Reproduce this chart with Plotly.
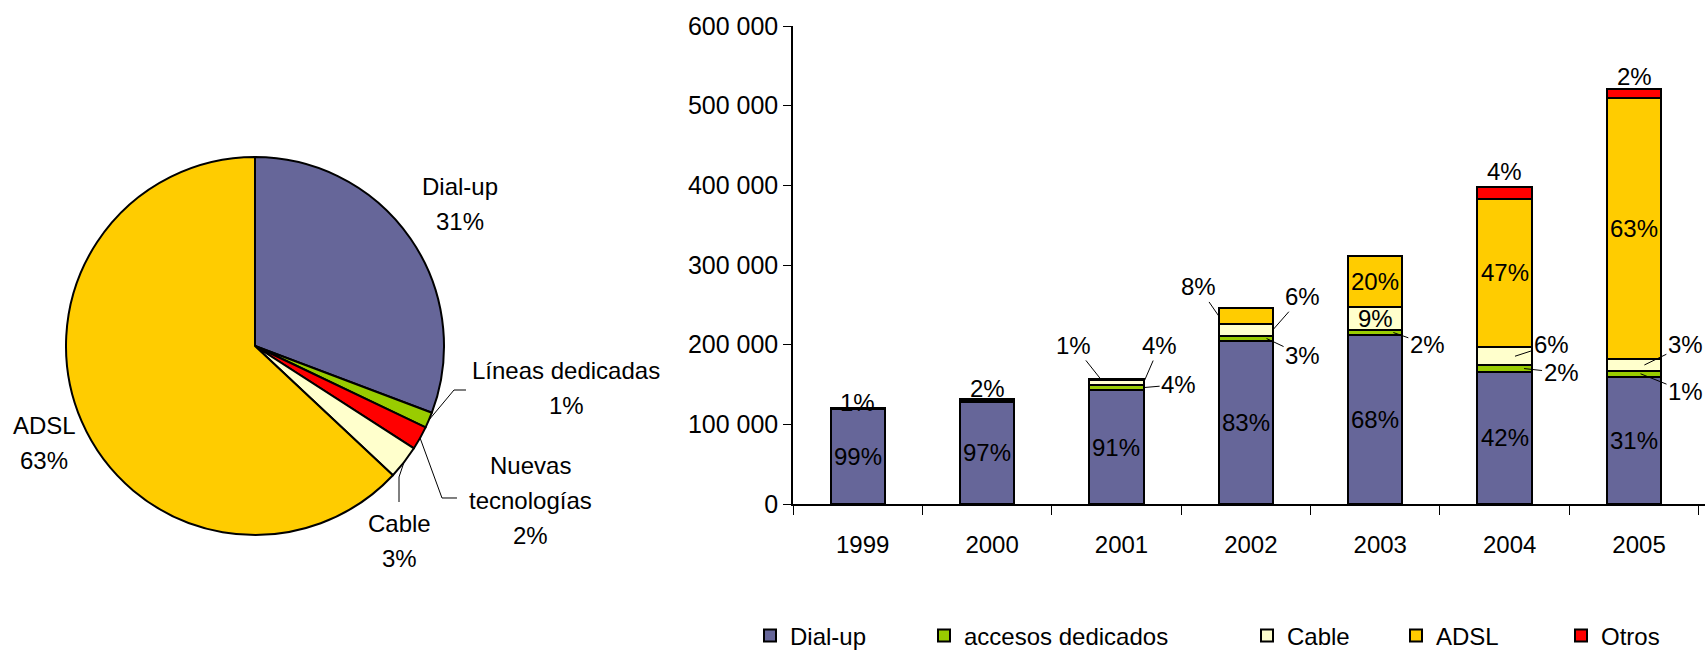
import math
import plotly.graph_objects as go

# ---------------- data ----------------
years = ["1999", "2000", "2001", "2002", "2003", "2004", "2005"]
dialup = [119000, 128500, 143000, 204000, 212000, 166000, 160000]
dedicados = [1200, 2600, 6300, 7400, 6500, 8000, 7000]
cable = [0, 1300, 6300, 14800, 29000, 23000, 15000]
adsl = [0, 0, 1600, 19700, 63500, 186000, 328000]
otros = [0, 0, 0, 0, 0, 15500, 10500]

series_names = ["Dial-up", "accesos dedicados", "Cable", "ADSL", "Otros"]
series_colors = ["#666699", "#99CC00", "#FFFFCC", "#FFCC00", "#FF0000"]

pie_labels = ["Dial-up", "Líneas dedicadas", "Nuevas tecnologías", "Cable", "ADSL"]
pie_values = [dialup[-1], dedicados[-1], otros[-1], cable[-1], adsl[-1]]
pie_colors = ["#666699", "#99CC00", "#FF0000", "#FFFFCC", "#FFCC00"]

y_tickvals = [0, 100000, 200000, 300000, 400000, 500000, 600000]
y_ticktext = ["0", "100 000", "200 000", "300 000", "400 000", "500 000", "600 000"]

# ---------------- page geometry ----------------
W, H = 1708, 652
FONT = "Liberation Sans, Arial, sans-serif"
FS = 24
BARGAP = 0.58
HALF = (1 - BARGAP) / 2


def px(x):
    return x / W


def py(y):
    return 1 - y / H


series = [dialup, dedicados, cable, adsl, otros]
totals = [sum(s[i] for s in series) for i in range(len(years))]

fig = go.Figure()

# ---------------- stacked bars ----------------
legend_ids = ["legend", "legend2", "legend3", "legend4", "legend5"]
for name, vals, col, lg in zip(series_names, series, series_colors, legend_ids):
    fig.add_trace(go.Bar(
        x=years, y=vals, name=name, legend=lg,
        marker=dict(color=col, line=dict(color="black", width=2)),
        hoverinfo="x+y+name",
    ))

# label placement for each (year, series) percentage
# "in": centred in the segment; ("top", yshift): above the bar;
# ("lead", tip offset in categories, ax, ay): label with leader line
label_place = {
    (0, 0): "in", (0, 1): ("top", -10),
    (1, 0): "in", (1, 1): ("top", -5),
    (2, 0): "in", (2, 1): ("lead", HALF, 35, -3), (2, 2): ("lead", HALF, 16, -37),
    (2, 3): ("lead", -0.12, -27, -34),
    (3, 0): "in", (3, 1): ("lead", 0.16, 36, 17), (3, 2): ("lead", HALF, 29, -33),
    (3, 3): ("lead", -HALF, -20, -29),
    (4, 0): "in", (4, 1): ("lead", 0.14, 34, 12), (4, 2): "in", (4, 3): "in",
    (5, 0): "in", (5, 1): ("lead", 0.15, 37, 4), (5, 2): ("lead", 0.08, 37, -12),
    (5, 3): "in", (5, 4): ("top", 0),
    (6, 0): "in", (6, 1): ("lead", 0.05, 45, 18), (6, 2): ("lead", 0.08, 41, -20),
    (6, 3): "in", (6, 4): ("top", -3),
}

annotations = []
for i in range(len(years)):
    base = 0
    for k, vals in enumerate(series):
        v = vals[i]
        place = label_place.get((i, k))
        if v > 0 and place is not None:
            pct = f"{round(100 * v / totals[i])}%"
            mid = base + v / 2
            if place == "in":
                annotations.append(dict(x=i, y=mid, xref="x", yref="y", text=pct,
                                        showarrow=False, font=dict(size=FS)))
            elif place[0] == "top":
                annotations.append(dict(x=i, y=totals[i], xref="x", yref="y", text=pct,
                                        showarrow=False, yanchor="bottom",
                                        yshift=place[1], font=dict(size=FS)))
            else:
                _, dx, ax, ay = place
                annotations.append(dict(x=i + dx, y=mid, xref="x", yref="y", text=pct,
                                        showarrow=True, arrowhead=0, arrowwidth=1,
                                        arrowcolor="black", ax=ax, ay=ay, standoff=0,
                                        font=dict(size=FS)))
        base += v

# ---------------- pie ----------------
CX, CY, R = 255, 346, 189
fig.add_trace(go.Pie(
    labels=pie_labels, values=pie_values, sort=False, direction="clockwise",
    rotation=0, textinfo="none", showlegend=False,
    marker=dict(colors=pie_colors, line=dict(color="black", width=2)),
    domain=dict(x=[px(CX - R), px(CX + R)], y=[py(CY + R), py(CY - R)]),
))

pie_total = sum(pie_values)
# label centre (px) and leader elbow points (px) for each slice
pie_label_pos = {
    "Dial-up": ((460, 204), None),
    "Líneas dedicadas": ((566, 388), [(454, 390), (466, 390)]),
    "Nuevas tecnologías": ((530, 500), [(442, 498), (457, 498)]),
    "Cable": ((399, 541), [(399, 477), (399, 502)]),
    "ADSL": ((44, 443), None),
}
pie_label_lines = {"Nuevas tecnologías": ["Nuevas", "tecnologías"]}
LINE_PITCH = 35

shapes = []
cum = 0
for lab, v in zip(pie_labels, pie_values):
    frac_mid = (cum + v / 2) / pie_total
    cum += v
    (lx, ly), elbow = pie_label_pos[lab]
    lines = pie_label_lines.get(lab, [lab]) + [f"{round(100 * v / pie_total)}%"]
    n = len(lines)
    for j, t in enumerate(lines):
        annotations.append(dict(x=px(lx), y=py(ly), xref="paper", yref="paper",
                                xanchor="center", yanchor="middle",
                                text=t, showarrow=False, font=dict(size=FS),
                                yshift=-(j - (n - 1) / 2) * LINE_PITCH))
    if elbow:
        ang = 2 * math.pi * frac_mid
        tx = CX + R * math.sin(ang)
        ty = CY - R * math.cos(ang)
        pts = [(tx, ty)] + elbow
        path = "M " + " L ".join(f"{px(a):.5f},{py(b):.5f}" for a, b in pts)
        shapes.append(dict(type="path", xref="paper", yref="paper", path=path,
                           line=dict(color="black", width=1)))

# ---------------- legends ----------------
legend_x = [750, 924, 1247, 1396, 1561]
legend_layout = {}
for lg, lx in zip(legend_ids, legend_x):
    legend_layout[lg] = dict(x=px(lx), y=py(636), xanchor="left", yanchor="middle",
                             orientation="h", font=dict(size=FS, family=FONT),
                             bgcolor="rgba(0,0,0,0)", borderwidth=0)

fig.update_layout(
    width=W, height=H,
    margin=dict(l=0, r=0, t=0, b=0, autoexpand=False),
    paper_bgcolor="white", plot_bgcolor="white",
    font=dict(family=FONT, size=FS, color="black"),
    barmode="stack", bargap=BARGAP,
    xaxis=dict(domain=[px(793), px(1705)], type="category", showline=True,
               linecolor="black", linewidth=1.5, ticks="outside", tickson="boundaries",
               ticklen=9, tickcolor="black", showgrid=False, automargin=False,
               tickfont=dict(size=FS), ticklabelstandoff=18, ticklabelshift=5),
    yaxis=dict(domain=[py(504), py(26)], range=[0, 600000], tickvals=y_tickvals,
               ticktext=y_ticktext, showline=True, linecolor="black", linewidth=1.5,
               ticks="outside", ticklen=8, tickcolor="black", showgrid=False,
               zeroline=False, automargin=False, tickfont=dict(size=25)),
    annotations=annotations,
    shapes=shapes,
    **legend_layout,
)

fig.write_html("out.html")
